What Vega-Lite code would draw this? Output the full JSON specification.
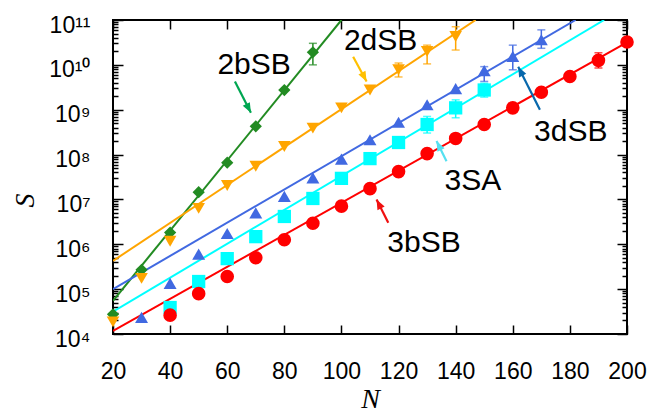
{
  "$schema": "https://vega.github.io/schema/vega-lite/v6.json",
  "width": 514,
  "height": 314,
  "autosize": {"type": "none"},
  "padding": {"left": 113, "top": 20, "right": 41, "bottom": 79},
  "background": "white",
  "config": {
    "view": {"stroke": "black", "strokeWidth": 2},
    "axis": {"grid": false, "domain": false, "tickColor": "black", "tickWidth": 1.5, "labelColor": "black", "labelFont": "Liberation Sans", "labelFontSize": 23}
  },
  "datasets": {
    "pts": [
      {"series": "2bSB", "N": 20, "S": 2.75e4}, {"series": "2bSB", "N": 30, "S": 2.69e5}, {"series": "2bSB", "N": 40, "S": 1.82e6}, {"series": "2bSB", "N": 50, "S": 1.45e7}, {"series": "2bSB", "N": 60, "S": 6.61e7}, {"series": "2bSB", "N": 70, "S": 4.27e8}, {"series": "2bSB", "N": 80, "S": 2.75e9}, {"series": "2bSB", "N": 90, "S": 1.91e10},
      {"series": "2dSB", "N": 20, "S": 1.86e4}, {"series": "2dSB", "N": 30, "S": 1.74e5}, {"series": "2dSB", "N": 40, "S": 1.17e6}, {"series": "2dSB", "N": 50, "S": 6.31e6}, {"series": "2dSB", "N": 60, "S": 2.04e7}, {"series": "2dSB", "N": 70, "S": 5.5e7}, {"series": "2dSB", "N": 80, "S": 1.51e8}, {"series": "2dSB", "N": 90, "S": 3.89e8}, {"series": "2dSB", "N": 100, "S": 1.1e9}, {"series": "2dSB", "N": 110, "S": 2.75e9}, {"series": "2dSB", "N": 120, "S": 7.76e9}, {"series": "2dSB", "N": 130, "S": 2.0e10}, {"series": "2dSB", "N": 140, "S": 4.27e10},
      {"series": "3dSB", "N": 30, "S": 2.34e4}, {"series": "3dSB", "N": 40, "S": 1.35e5}, {"series": "3dSB", "N": 50, "S": 6.03e5}, {"series": "3dSB", "N": 60, "S": 1.74e6}, {"series": "3dSB", "N": 70, "S": 5.01e6}, {"series": "3dSB", "N": 80, "S": 1.17e7}, {"series": "3dSB", "N": 90, "S": 3.02e7}, {"series": "3dSB", "N": 100, "S": 7.94e7}, {"series": "3dSB", "N": 110, "S": 2.14e8}, {"series": "3dSB", "N": 120, "S": 5.25e8}, {"series": "3dSB", "N": 130, "S": 1.29e9}, {"series": "3dSB", "N": 140, "S": 2.95e9}, {"series": "3dSB", "N": 150, "S": 7.41e9}, {"series": "3dSB", "N": 160, "S": 1.55e10}, {"series": "3dSB", "N": 170, "S": 3.63e10},
      {"series": "3SA", "N": 40, "S": 3.89e4}, {"series": "3SA", "N": 50, "S": 1.48e5}, {"series": "3SA", "N": 60, "S": 4.79e5}, {"series": "3SA", "N": 70, "S": 1.48e6}, {"series": "3SA", "N": 80, "S": 4.17e6}, {"series": "3SA", "N": 90, "S": 1.05e7}, {"series": "3SA", "N": 100, "S": 2.95e7}, {"series": "3SA", "N": 110, "S": 8.13e7}, {"series": "3SA", "N": 120, "S": 1.86e8}, {"series": "3SA", "N": 130, "S": 4.68e8}, {"series": "3SA", "N": 140, "S": 1.1e9}, {"series": "3SA", "N": 150, "S": 2.75e9},
      {"series": "3bSB", "N": 40, "S": 2.63e4}, {"series": "3bSB", "N": 50, "S": 7.94e4}, {"series": "3bSB", "N": 60, "S": 1.91e5}, {"series": "3bSB", "N": 70, "S": 5.01e5}, {"series": "3bSB", "N": 80, "S": 1.26e6}, {"series": "3bSB", "N": 90, "S": 2.95e6}, {"series": "3bSB", "N": 100, "S": 7.08e6}, {"series": "3bSB", "N": 110, "S": 1.74e7}, {"series": "3bSB", "N": 120, "S": 4.17e7}, {"series": "3bSB", "N": 130, "S": 1.05e8}, {"series": "3bSB", "N": 140, "S": 2.29e8}, {"series": "3bSB", "N": 150, "S": 4.68e8}, {"series": "3bSB", "N": 160, "S": 1.1e9}, {"series": "3bSB", "N": 170, "S": 2.45e9}, {"series": "3bSB", "N": 180, "S": 5.5e9}, {"series": "3bSB", "N": 190, "S": 1.26e10}, {"series": "3bSB", "N": 200, "S": 3.24e10}
    ],
    "err": [
      {"series": "2bSB", "N": 90, "lo": 1.0e10, "hi": 3.02e10},
      {"series": "2dSB", "N": 120, "lo": 5.37e9, "hi": 1.1e10},
      {"series": "2dSB", "N": 130, "lo": 1.05e10, "hi": 2.75e10},
      {"series": "2dSB", "N": 140, "lo": 2.14e10, "hi": 7.08e10},
      {"series": "3dSB", "N": 150, "lo": 4.27e9, "hi": 9.12e9},
      {"series": "3dSB", "N": 160, "lo": 7.76e9, "hi": 2.75e10},
      {"series": "3dSB", "N": 170, "lo": 2.34e10, "hi": 6.03e10},
      {"series": "3SA", "N": 120, "lo": 1.66e8, "hi": 2.14e8},
      {"series": "3SA", "N": 130, "lo": 3.02e8, "hi": 7.08e8},
      {"series": "3SA", "N": 140, "lo": 6.61e8, "hi": 1.66e9},
      {"series": "3SA", "N": 150, "lo": 1.91e9, "hi": 3.89e9},
      {"series": "3bSB", "N": 190, "lo": 8.51e9, "hi": 1.86e10},
      {"series": "3bSB", "N": 200, "lo": 2.63e10, "hi": 3.98e10}
    ],
    "fit": [
      {"series": "2bSB", "N": 20, "S": 5.5e4}, {"series": "2bSB", "N": 100, "S": 1e11},
      {"series": "2dSB", "N": 20, "S": 4.27e5}, {"series": "2dSB", "N": 147, "S": 1e11},
      {"series": "3dSB", "N": 20, "S": 1e5}, {"series": "3dSB", "N": 182, "S": 1e11},
      {"series": "3SA", "N": 20, "S": 3.16e4}, {"series": "3SA", "N": 192, "S": 1e11},
      {"series": "3bSB", "N": 20, "S": 1.17e4}, {"series": "3bSB", "N": 200, "S": 3.16e10}
    ],
    "ann": [
      {"label": "2bSB", "tx": 69.4, "ty": 1e10, "x1": 62.7, "y1": 4.27e9, "x2": 68.3, "y2": 8.51e8},
      {"label": "2dSB", "tx": 113.7, "ty": 3.4e10, "x1": 104.1, "y1": 1.51e10, "x2": 108.8, "y2": 4.27e9},
      {"label": "3dSB", "tx": 180.3, "ty": 3.24e8, "x1": 169.5, "y1": 1e9, "x2": 161.9, "y2": 9.12e9},
      {"label": "3SA", "tx": 146, "ty": 2.63e7, "x1": 136.8, "y1": 7.08e7, "x2": 133.3, "y2": 2e8},
      {"label": "3bSB", "tx": 128.9, "ty": 1.07e6, "x1": 116.4, "y1": 3.02e6, "x2": 112.3, "y2": 1e7}
    ]
  },
  "layer": [
    {
      "data": {"name": "fit"},
      "mark": {"type": "line", "strokeWidth": 2, "clip": true},
      "encoding": {
        "x": {"field": "N", "type": "quantitative", "scale": {"domain": [20, 200], "nice": false},
          "axis": {"orient": "bottom", "values": [20, 40, 60, 80, 100, 120, 140, 160, 180, 200], "tickSize": -9, "labelPadding": 35, "labelFlush": false,
            "title": "N", "titleFont": "Liberation Serif", "titleFontStyle": "italic", "titleFontWeight": "normal", "titleFontSize": 28, "titleColor": "black", "titleY": 73, "titleBaseline": "alphabetic"}},
        "y": {"field": "S", "type": "quantitative", "scale": {"type": "log", "domain": [10000, 100000000000], "nice": false},
          "axis": {"orient": "left", "values": [10000, 100000, 1000000, 10000000, 100000000, 1000000000, 10000000000, 100000000000], "tickSize": -10, "labelPadding": 33, "labelOffset": 5, "labelFlush": false,
            "labelExpr": "'10' + (round(log(datum.value)/LN10) >= 10 ? '¹' + substring('⁰¹²³⁴⁵⁶⁷⁸⁹', round(log(datum.value)/LN10) - 10, round(log(datum.value)/LN10) - 9) : substring('⁰¹²³⁴⁵⁶⁷⁸⁹', round(log(datum.value)/LN10), round(log(datum.value)/LN10) + 1))",
            "title": "S", "titleFont": "Liberation Serif", "titleFontStyle": "italic", "titleFontWeight": "normal", "titleFontSize": 28, "titleColor": "black", "titleX": -88, "titleY": 180, "titleAlign": "center", "titleBaseline": "middle"}},
        "color": {"field": "series", "type": "nominal", "scale": {"domain": ["2bSB", "2dSB", "3dSB", "3SA", "3bSB"], "range": ["#228B22", "#FFA500", "#4169E1", "#00FFFF", "#FF0000"]}, "legend": null}
      }
    },
    {
      "data": {"name": "err"},
      "mark": {"type": "rule", "strokeWidth": 1.5},
      "encoding": {
        "x": {"field": "N", "type": "quantitative", "scale": {"domain": [20, 200], "nice": false},
          "axis": {"orient": "top", "values": [20, 40, 60, 80, 100, 120, 140, 160, 180, 200], "tickSize": -9, "labels": false, "title": null}},
        "y": {"field": "lo", "type": "quantitative", "scale": {"type": "log", "domain": [10000, 100000000000], "nice": false},
          "axis": {"orient": "right", "values": [10000, 100000, 1000000, 10000000, 100000000, 1000000000, 10000000000, 100000000000], "tickSize": -10, "labels": false, "title": null}},
        "y2": {"field": "hi"},
        "color": {"field": "series", "type": "nominal", "legend": null}
      }
    },
    {
      "data": {"name": "err"},
      "transform": [{"fold": ["lo", "hi"], "as": ["end", "val"]}],
      "mark": {"type": "tick", "orient": "horizontal", "size": 8, "thickness": 1.5},
      "encoding": {
        "x": {"field": "N", "type": "quantitative", "scale": {"domain": [20, 200], "nice": false}, "axis": null},
        "y": {"field": "val", "type": "quantitative", "scale": {"type": "log", "domain": [10000, 100000000000], "nice": false},
          "axis": {"orient": "left", "tickSize": -5, "labels": false, "title": null,
            "values": [20000, 30000, 40000, 50000, 60000, 70000, 80000, 90000, 200000, 300000, 400000, 500000, 600000, 700000, 800000, 900000, 2000000, 3000000, 4000000, 5000000, 6000000, 7000000, 8000000, 9000000, 20000000, 30000000, 40000000, 50000000, 60000000, 70000000, 80000000, 90000000, 200000000, 300000000, 400000000, 500000000, 600000000, 700000000, 800000000, 900000000, 2000000000, 3000000000, 4000000000, 5000000000, 6000000000, 7000000000, 8000000000, 9000000000, 20000000000, 30000000000, 40000000000, 50000000000, 60000000000, 70000000000, 80000000000, 90000000000]}},
        "color": {"field": "series", "type": "nominal", "legend": null}
      }
    },
    {
      "data": {"name": "pts"},
      "mark": {"type": "point", "filled": true, "opacity": 1, "strokeWidth": 0},
      "encoding": {
        "x": {"field": "N", "type": "quantitative", "scale": {"domain": [20, 200], "nice": false}, "axis": null},
        "y": {"field": "S", "type": "quantitative", "scale": {"type": "log", "domain": [10000, 100000000000], "nice": false},
          "axis": {"orient": "right", "tickSize": -5, "labels": false, "title": null,
            "values": [20000, 30000, 40000, 50000, 60000, 70000, 80000, 90000, 200000, 300000, 400000, 500000, 600000, 700000, 800000, 900000, 2000000, 3000000, 4000000, 5000000, 6000000, 7000000, 8000000, 9000000, 20000000, 30000000, 40000000, 50000000, 60000000, 70000000, 80000000, 90000000, 200000000, 300000000, 400000000, 500000000, 600000000, 700000000, 800000000, 900000000, 2000000000, 3000000000, 4000000000, 5000000000, 6000000000, 7000000000, 8000000000, 9000000000, 20000000000, 30000000000, 40000000000, 50000000000, 60000000000, 70000000000, 80000000000, 90000000000]}},
        "color": {"field": "series", "type": "nominal", "legend": null},
        "shape": {"field": "series", "type": "nominal", "scale": {"domain": ["2bSB", "2dSB", "3dSB", "3SA", "3bSB"], "range": ["diamond", "triangle-down", "triangle-up", "square", "circle"]}, "legend": null},
        "size": {"field": "series", "type": "nominal", "scale": {"domain": ["2bSB", "2dSB", "3dSB", "3SA", "3bSB"], "range": [150, 185, 185, 64, 140]}, "legend": null}
      }
    },
    {
      "data": {"name": "ann"},
      "mark": {"type": "rule", "strokeWidth": 2.2},
      "encoding": {
        "x": {"field": "x1", "type": "quantitative", "scale": {"domain": [20, 200], "nice": false}, "axis": null},
        "y": {"field": "y1", "type": "quantitative", "scale": {"type": "log", "domain": [10000, 100000000000], "nice": false}, "axis": null},
        "x2": {"field": "x2"},
        "y2": {"field": "y2"},
        "stroke": {"field": "label", "type": "nominal", "scale": {"domain": ["2bSB", "2dSB", "3dSB", "3SA", "3bSB"], "range": ["#00A651", "#FFC000", "#0868AC", "#55E0F0", "#F01010"]}, "legend": null}
      }
    },
    {
      "data": {"name": "ann"},
      "transform": [{"filter": "datum.label == '2bSB' || datum.label == '2dSB'"}],
      "mark": {"type": "point", "shape": "M0,0L-0.4,1L0.4,1Z", "angle": 152.5, "size": 400, "filled": true, "opacity": 1, "strokeWidth": 0},
      "encoding": {
        "x": {"field": "x2", "type": "quantitative", "scale": {"domain": [20, 200], "nice": false}, "axis": null},
        "y": {"field": "y2", "type": "quantitative", "scale": {"type": "log", "domain": [10000, 100000000000], "nice": false}, "axis": null},
        "fill": {"field": "label", "type": "nominal", "scale": {"domain": ["2bSB", "2dSB", "3dSB", "3SA", "3bSB"], "range": ["#00A651", "#FFC000", "#0868AC", "#55E0F0", "#F01010"]}, "legend": null}
      }
    },
    {
      "data": {"name": "ann"},
      "transform": [{"filter": "datum.label != '2bSB' && datum.label != '2dSB'"}],
      "mark": {"type": "point", "shape": "M0,0L-0.4,1L0.4,1Z", "angle": 333.4, "size": 400, "filled": true, "opacity": 1, "strokeWidth": 0},
      "encoding": {
        "x": {"field": "x2", "type": "quantitative", "scale": {"domain": [20, 200], "nice": false}, "axis": null},
        "y": {"field": "y2", "type": "quantitative", "scale": {"type": "log", "domain": [10000, 100000000000], "nice": false}, "axis": null},
        "fill": {"field": "label", "type": "nominal", "legend": null}
      }
    },
    {
      "data": {"name": "ann"},
      "mark": {"type": "text", "font": "Liberation Sans", "fontSize": 30, "color": "black", "align": "center", "baseline": "middle"},
      "encoding": {
        "x": {"field": "tx", "type": "quantitative", "scale": {"domain": [20, 200], "nice": false}, "axis": null},
        "y": {"field": "ty", "type": "quantitative", "scale": {"type": "log", "domain": [10000, 100000000000], "nice": false}, "axis": null},
        "text": {"field": "label", "type": "nominal"}
      }
    }
  ],
  "resolve": {"axis": {"x": "independent", "y": "independent"}}
}
